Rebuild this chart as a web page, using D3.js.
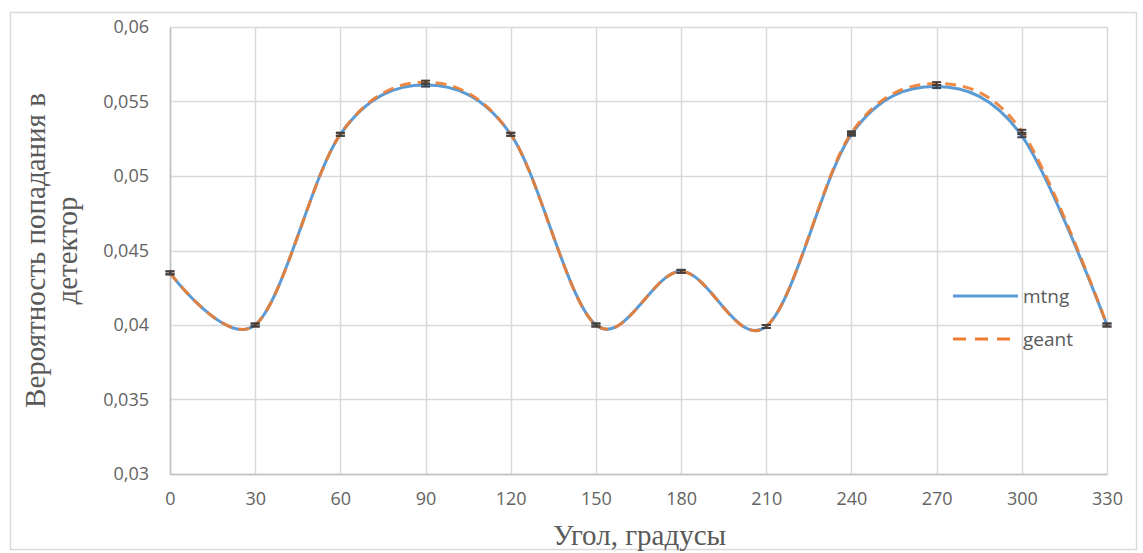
<!DOCTYPE html>
<html>
<head>
<meta charset="utf-8">
<script src="https://cdn.jsdelivr.net/npm/d3@7"></script>
<style>
  html, body { margin: 0; padding: 0; background: #fff; }
  svg { display: block; }
</style>
</head>
<body>
<svg id="chart" width="1143" height="553"></svg>
<script>
// Detection probability vs. angle: two simulations (mtng, geant)
const angles = [0, 30, 60, 90, 120, 150, 180, 210, 240, 270, 300, 330];
const mtng  = [0.0435, 0.0400, 0.0528, 0.0561, 0.0528, 0.0400, 0.0436, 0.0399, 0.0528, 0.0560, 0.0527, 0.0400];
const geant = [0.0435, 0.0400, 0.0528, 0.0563, 0.0528, 0.0400, 0.0436, 0.0399, 0.0529, 0.0562, 0.0530, 0.0400];
const errMtng  = [0.0001, 0.0001, 0.0001, 0.0001, 0.0001, 0.0001, 0.0001, 0.0001, 0.0001, 0.0001, 0.0001, 0.0001];
const errGeant = [0.0001, 0.0001, 0.0001, 0.0001, 0.0001, 0.0001, 0.0001, 0.0001, 0.0001, 0.0001, 0.0001, 0.0001];
const yTicks = [0.03, 0.035, 0.04, 0.045, 0.05, 0.055, 0.06];
const seriesNames = ["mtng", "geant"];

const svg = d3.select("#chart");
const plot = { left: 170, right: 1107, top: 27, bottom: 474 };
const sans = "'Open Sans', 'Noto Sans', sans-serif";
const serif = "'Liberation Serif', 'DejaVu Serif', serif";

// outer chart frame
svg.append("rect")
  .attr("x", 10.5).attr("y", 12.5)
  .attr("width", 1126).attr("height", 537)
  .attr("fill", "#fff").attr("stroke", "#d9d9d9").attr("stroke-width", 1.5);

const x = d3.scaleLinear().domain([0, 330]).range([plot.left, plot.right]);
const y = d3.scaleLinear().domain([0.03, 0.06]).range([plot.bottom, plot.top]);

const fmt = v => d3.format("")(+v.toFixed(3)).replace(".", ",");

// grid lines
const grid = svg.append("g");
grid.selectAll("line.h").data(yTicks).join("line")
  .attr("x1", plot.left).attr("x2", plot.right)
  .attr("y1", d => Math.round(y(d)) + 0.5).attr("y2", d => Math.round(y(d)) + 0.5)
  .attr("stroke", "#d9d9d9").attr("stroke-width", 1.5);
grid.selectAll("line.v").data(angles).join("line")
  .attr("y1", plot.top).attr("y2", plot.bottom)
  .attr("x1", d => Math.round(x(d)) + 0.5).attr("x2", d => Math.round(x(d)) + 0.5)
  .attr("stroke", "#d9d9d9").attr("stroke-width", 1.5);

// axes
const yAxis = svg.append("g")
  .attr("transform", `translate(${plot.left},0)`)
  .call(d3.axisLeft(y).tickValues(yTicks).tickSize(0).tickPadding(21).tickFormat(fmt));
const xAxis = svg.append("g")
  .attr("transform", `translate(0,${plot.bottom})`)
  .call(d3.axisBottom(x).tickValues(angles).tickSize(0).tickPadding(18).tickFormat(d3.format("d")));
[yAxis, xAxis].forEach(a => {
  a.select(".domain").attr("stroke", "#bfbfbf").attr("stroke-width", 1.5);
  a.selectAll("text")
    .attr("fill", "#636363")
    .style("font-family", sans)
    .style("font-size", "18px");
});

// smoothed series
const line = d3.line()
  .x((d, i) => x(angles[i]))
  .y(d => y(d))
  .curve(d3.curveCardinal.tension(0));

svg.append("path").datum(mtng)
  .attr("d", line).attr("fill", "none")
  .attr("stroke", "#5B9BD5").attr("stroke-width", 3);
svg.append("path").datum(geant)
  .attr("d", line).attr("fill", "none")
  .attr("stroke", "#ED7D31").attr("stroke-width", 3)
  .attr("stroke-dasharray", "11,7").attr("opacity", 0.9);

// error bars
function errorBars(vals, errs, color) {
  const g = svg.append("g").attr("stroke", color).attr("stroke-width", 2);
  vals.forEach((v, i) => {
    const cx = x(angles[i]);
    const y0 = y(v - errs[i]), y1 = y(v + errs[i]);
    g.append("line").attr("x1", cx).attr("x2", cx).attr("y1", y0).attr("y2", y1);
    g.append("line").attr("x1", cx - 4.5).attr("x2", cx + 4.5).attr("y1", y0).attr("y2", y0);
    g.append("line").attr("x1", cx - 4.5).attr("x2", cx + 4.5).attr("y1", y1).attr("y2", y1);
  });
}
errorBars(mtng, errMtng, "#3a4654");
errorBars(geant, errGeant, "#4a3f38");

// legend
const legend = svg.append("g");
const legendStyles = [
  { color: "#5B9BD5", dash: null },
  { color: "#ED7D31", dash: "13,9" }
];
const legendY = [296, 339];
seriesNames.forEach((name, i) => {
  legend.append("line")
    .attr("x1", 953).attr("x2", 1018)
    .attr("y1", legendY[i]).attr("y2", legendY[i])
    .attr("stroke", legendStyles[i].color).attr("stroke-width", 3)
    .attr("stroke-dasharray", legendStyles[i].dash);
  legend.append("text")
    .attr("x", 1023).attr("y", legendY[i]).attr("dy", "0.35em")
    .attr("fill", "#595959")
    .style("font-family", sans)
    .style("font-size", "19px")
    .text(name);
});

// axis titles
svg.append("text")
  .attr("x", (plot.left + plot.right) / 2 + 1).attr("y", 545)
  .attr("text-anchor", "middle")
  .attr("fill", "#595959")
  .style("font-family", serif).style("font-size", "29px")
  .text("Угол, градусы");

const yTitle = svg.append("text")
  .attr("transform", `translate(35,${(plot.top + plot.bottom) / 2}) rotate(-90)`)
  .attr("text-anchor", "middle")
  .attr("fill", "#595959")
  .style("font-family", serif).style("font-size", "29px");
yTitle.append("tspan").attr("x", 0).attr("dy", "0.35em").text("Вероятность попадания в");
yTitle.append("tspan").attr("x", 0).attr("dy", "1.1em").text("детектор");
</script>
</body>
</html>
